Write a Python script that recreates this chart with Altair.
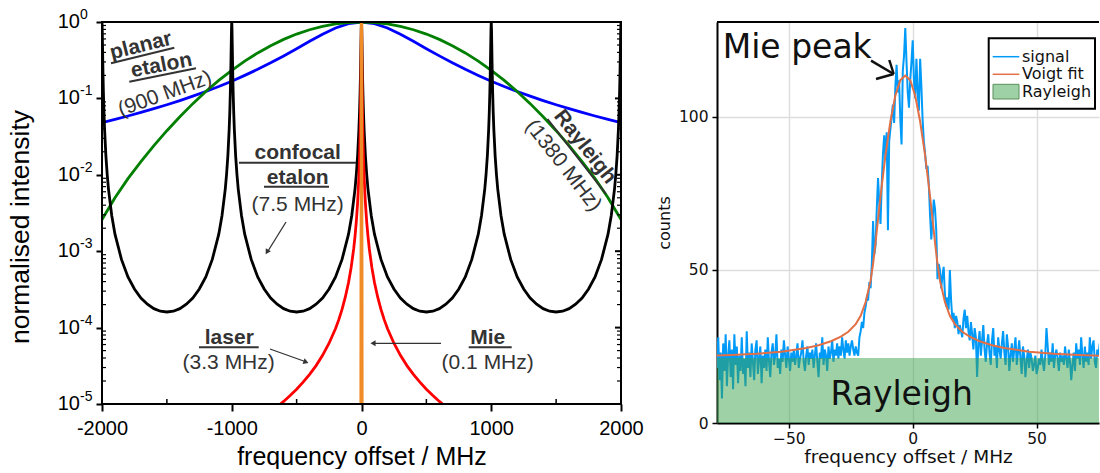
import altair as alt
import pandas as pd

# ---------------- left panel: line shapes ----------------
shape_offset = [0, 100, 200, 300, 400, 500, 600, 700, 800, 900, 1000,
                1100, 1200, 1300, 1400, 1500, 1600, 1700, 1800, 1900, 2000]
planar_value = [1.0, 0.953, 0.835, 0.692, 0.559, 0.447, 0.360, 0.292, 0.240, 0.200, 0.168,
                0.143, 0.123, 0.107, 0.0936, 0.0826, 0.0733, 0.0655, 0.0588, 0.0531, 0.048]
rayleigh_value = [1.0, 0.985, 0.943, 0.877, 0.792, 0.695, 0.592, 0.490, 0.394, 0.308, 0.233,
                  0.172, 0.123, 0.0854, 0.0576, 0.0378, 0.0241, 0.0149, 0.0089, 0.0050, 0.0026]
confocal_peaks = [-2000, -1000, 0, 1000, 2000]
confocal_offset = [0, 2, 4, 6, 8, 11, 15, 20, 30, 40, 50, 75, 100, 150, 200, 250, 300, 350, 400, 450, 500]
confocal_value = [1.0, 0.80, 0.50, 0.31, 0.20, 0.118, 0.067, 0.039, 0.0177, 0.0101, 0.0065, 0.00293,
                  0.00167, 0.00078, 0.00046, 0.00032, 0.000244, 0.000202, 0.000177, 0.000164, 0.00016]
laser_offset = [0, 1, 2, 3, 4, 5, 6, 8, 10, 12, 15, 20, 25, 30, 40, 50, 60, 80, 100, 125, 150,
                175, 200, 250, 300, 350, 400, 450, 500, 550, 600, 650]
laser_value = [1.0, 0.796, 0.494, 0.302, 0.196, 0.135, 0.0977, 0.0574, 0.0375, 0.0264, 0.01704,
               0.00966, 0.0062, 0.00431, 0.00243, 0.00156, 0.00108, 0.000609, 0.00039, 0.00025,
               0.000173, 0.000127, 0.0000975, 0.0000624, 0.0000433, 0.0000318, 0.0000244,
               0.0000193, 0.0000156, 0.0000129, 0.0000108, 0.0000092]
mie_offset = [0, 0.05, 0.1, 0.3, 1, 2, 3]
mie_value = [1.0, 0.5, 0.2, 0.027, 0.0025, 0.0006, 0.00001]

decade_value = [1, 0.1, 0.01, 0.001, 0.0001, 0.00001]
decade_exponent = ["0", "-1", "-2", "-3", "-4", "-5"]
x_major = [-2000, -1000, 0, 1000, 2000]
x_minor = [-1500, -500, 500, 1500]
y_minor = [m * 10.0 ** k for k in range(-5, 0) for m in range(2, 10)]

signal_start = -79.0
signal_step = 0.5
signal_counts = [
    # -79 .. -60
    18, 28, 14, 23, 8, 26, 17, 29, 12, 22, 27, 15, 24, 11, 29, 19, 25, 13, 22, 17,
    28, 16, 21, 12, 30, 18, 23, 15, 26, 20, 14, 24, 27, 16, 21, 25, 13, 22, 18,
    # -59.5 .. -30
    24, 17, 28, 20, 15, 23, 26, 19, 22, 29,
    18, 21, 16, 24, 20, 27, 22, 18, 25, 21,
    17, 23, 20, 24, 19, 22, 26, 18, 21, 23,
    27, 20, 17, 22, 25, 19, 23, 21, 24, 18,
    22, 26, 20, 15, 23, 21, 28, 19, 24, 22,
    17, 25, 21, 23, 27, 20, 24, 22, 26, 21,
    # -29.5 .. -22
    25, 22, 28, 24, 21, 27, 23, 26, 22, 25, 27, 24, 22, 25, 23, 22,
    # -21.5 .. 20
    28, 30, 33, 31, 36, 38, 41, 40, 46, 44,
    52, 66, 55, 58, 70, 80, 72, 65, 78, 88,
    94, 86, 95, 63, 92, 96, 100, 104, 98, 110,
    117, 108, 112, 99, 91, 115, 120, 129, 118, 108,
    103, 112, 118, 125, 112, 106, 119, 108, 102, 119,
    110, 99, 92, 88, 83, 84, 78, 68, 60, 66,
    73, 70, 63, 47, 52, 50, 44, 48, 51, 42,
    38, 41, 37, 50, 40, 34, 36, 31, 35, 33,
    29, 32, 30, 28,
    # 20.5 .. 79
    34, 37, 31, 35, 30, 27, 33, 29, 24, 31, 28, 15, 26, 30, 22, 27, 32, 24, 20, 26,
    29, 23, 19, 27, 31, 22, 25, 18, 28, 24, 21, 26, 30, 23, 19, 29, 25, 17, 22, 26,
    20, 24, 28, 19, 23, 27, 21, 16, 25, 22, 15, 20, 24, 18, 23, 21, 17, 19, 22, 16,
    18, 21, 19, 24, 20, 17, 22, 31, 25, 19, 23, 20, 26, 18, 22, 24, 21, 17, 23, 20,
    22, 19, 25, 21, 18, 24, 20, 14, 19, 23, 17, 26, 21, 24, 19, 28, 22, 18, 25, 20,
    23, 19, 28, 21, 25, 27, 20, 18, 24, 22, 26, 19, 23, 21, 25, 18, 22, 24,
]
fit_center = -3.0
fit_offset = [0, 2, 4, 6, 8, 10, 12, 13, 14, 16, 18, 20, 23, 26, 30, 35, 40, 50, 60, 70, 82]
fit_counts = [113.5, 112, 107, 98.5, 87.5, 74, 59, 52, 46.5, 39.5, 35, 32.3, 29.8, 28.2, 26.7,
              25.4, 24.5, 23.3, 22.6, 22.2, 21.9]
rayleigh_level = 21.2

# ---------------- tables built from the arrays ----------------
def mirrored(offsets, values, center=0.0, fx="f", fy="v"):
    rows = [(center - d, v) for d, v in zip(offsets, values)]
    rows += [(center + d, v) for d, v in zip(offsets, values)]
    return pd.DataFrame(rows, columns=[fx, fy]).sort_values(fx)

planar_df = mirrored(shape_offset, planar_value)
rayleigh_df = mirrored(shape_offset, rayleigh_value)
laser_df = mirrored(laser_offset, laser_value)
mie_df = mirrored(mie_offset, mie_value)
conf_rows = []
for p in confocal_peaks:
    for d, v in zip(confocal_offset, confocal_value):
        if p - d >= -2000:
            conf_rows.append((p - d, v))
        if p + d <= 2000:
            conf_rows.append((p + d, v))
confocal_df = pd.DataFrame(conf_rows, columns=["f", "v"]).sort_values("f")
decade_df = pd.DataFrame({"v": decade_value, "ten": ["10"] * len(decade_value), "ex": decade_exponent})
ymin_df = pd.DataFrame({"v": y_minor})
xminor_df = pd.DataFrame({"f": x_minor})

signal_df = pd.DataFrame({"f": [signal_start + signal_step * i for i in range(len(signal_counts))],
                          "c": signal_counts})
fit_df = mirrored(fit_offset, fit_counts, center=fit_center, fx="f", fy="c")
rayl_df = pd.DataFrame({"c": [rayleigh_level], "c0": [0.0]})

ONE = pd.DataFrame({"k": [0]})

LW, LH = 519, 382
RW, RH = 382, 401
SANS = "Liberation Sans"
DV = "DejaVu Sans"
ANN = "#333333"


def txt(t, x, y, size, bold=False, angle=0, color=ANN, font=SANS, align="center", baseline="middle"):
    return alt.Chart(ONE).mark_text(text=t, font=font, fontSize=size,
                                    fontWeight="bold" if bold else "normal", angle=angle,
                                    color=color, align=align, baseline=baseline).encode(
        x=alt.value(x), y=alt.value(y))


def seg(x1, y1, x2, y2, color=ANN, width=2.0):
    return alt.Chart(ONE).mark_rule(color=color, strokeWidth=width).encode(
        x=alt.value(x1), y=alt.value(y1), x2=alt.value(x2), y2=alt.value(y2))


def head(x, y, shape, angle, color=ANN, size=45):
    return alt.Chart(ONE).mark_point(shape=shape, filled=True, color=color, size=size,
                                     angle=angle, opacity=1).encode(x=alt.value(x), y=alt.value(y))


# ---------------- left panel ----------------
LX = alt.X("f:Q", scale=alt.Scale(domain=[-2000, 2000], nice=False, zero=False),
           axis=alt.Axis(values=x_major, labelExpr="'' + datum.value", labelFont=SANS,
                         labelFontSize=20, labelColor="black", labelPadding=7, labelFlush=False,
                         labelOverlap=False, tickSize=7, tickWidth=2, tickColor="black",
                         domain=False, grid=False, title="frequency offset / MHz",
                         titleFont=SANS, titleFontSize=25, titleFontWeight="normal",
                         titleColor="black", titlePadding=6))
LY = alt.Y("v:Q", scale=alt.Scale(type="log", domain=[1e-5, 1], nice=False),
           axis=alt.Axis(values=decade_value, labels=False, tickSize=6, tickWidth=2,
                         tickColor="black", domain=False, grid=False, title=None))


def curve(df, color, width=2.8):
    return alt.Chart(df).mark_line(color=color, strokeWidth=width, clip=True).encode(x=LX, y=LY)


left_layers = [
    curve(planar_df, "#0000ff"),
    curve(rayleigh_df, "#007f00"),
    curve(confocal_df, "black"),
    curve(laser_df, "#ff0000"),
    curve(mie_df, "#f08c28", 3.4),
    alt.Chart(ONE).mark_rect(fillOpacity=0, stroke="black", strokeWidth=2).encode(
        x=alt.value(0), x2=alt.value(LW), y=alt.value(0), y2=alt.value(LH)),
    alt.Chart(ymin_df).mark_rule(color="black", strokeWidth=1.2).encode(
        y=LY, x=alt.value(0), x2=alt.value(4)),
    alt.Chart(ymin_df).mark_rule(color="black", strokeWidth=1.2).encode(
        y=LY, x=alt.value(LW), x2=alt.value(LW - 4)),
    alt.Chart(decade_df).mark_rule(color="black", strokeWidth=2).encode(
        y=LY, x=alt.value(LW), x2=alt.value(LW - 6)),
    alt.Chart(xminor_df).mark_rule(color="black", strokeWidth=1.5).encode(
        x=LX, y=alt.value(LH), y2=alt.value(LH - 5)),
    alt.Chart(decade_df).mark_text(align="right", baseline="middle", font=SANS, fontSize=20,
                                   color="black").encode(y=LY, x=alt.value(-22), text="ten:N"),
    alt.Chart(decade_df).mark_text(align="left", baseline="middle", font=SANS, fontSize=14,
                                   color="black", dy=-7).encode(y=LY, x=alt.value(-22), text="ex:N"),
    txt("normalised intensity", -73, 205, 26.5, angle=270, color="black", baseline="alphabetic"),
    # planar etalon
    txt("planar", 39, 24, 21, bold=True, angle=346),
    seg(9, 41.3, 72.3, 25.7),
    txt("etalon", 59.5, 43.5, 21, bold=True, angle=349),
    seg(27.3, 59.7, 94, 46.3),
    txt("(900 MHz)", 63, 72, 21, angle=340),
    # confocal etalon
    txt("confocal", 195.7, 131, 21, bold=True),
    seg(137, 140.7, 254, 140.7),
    txt("etalon", 195.7, 156.3, 21, bold=True),
    seg(162, 164.7, 227, 164.7),
    txt("(7.5 MHz)", 195.7, 183, 21),
    seg(184, 200, 166, 229, width=1.3),
    head(165, 230, "triangle-down", 31, size=35),
    # Rayleigh
    txt("Rayleigh", 483, 125, 21, bold=True, angle=52),
    seg(445.5, 97, 504, 172),
    txt("(1380 MHz)", 461.3, 143.7, 21, angle=52),
    # laser
    txt("laser", 127.3, 316.3, 21, bold=True),
    seg(97, 325.3, 156.7, 325.3),
    txt("(3.3 MHz)", 126.7, 341.3, 21),
    seg(168, 327, 203, 339.5, width=1.3),
    head(204, 340, "triangle-right", 20, size=35),
    # Mie
    txt("Mie", 385.7, 315.7, 21, bold=True),
    seg(366.7, 325.3, 409.7, 325.3),
    txt("(0.1 MHz)", 385.7, 340.7, 21),
    seg(339, 321.3, 272, 321.3, width=1.3),
    head(271, 321.3, "triangle-left", 0, size=35),
]
left = alt.layer(*left_layers).properties(width=LW, height=LH)

# ---------------- right panel ----------------
RX = alt.X("f:Q", scale=alt.Scale(domain=[-79, 75.2], nice=False, zero=False),
           axis=alt.Axis(values=[-50, 0, 50], grid=True, gridColor="#dddddd", gridWidth=1.4,
                         domainColor="black", domainWidth=2, tickColor="black", tickSize=5,
                         tickWidth=1.5, labelFont=DV, labelFontSize=15.5, labelColor="#111111",
                         labelPadding=3, labelFlush=False, title="frequency offset / MHz",
                         titleFont=DV, titleFontSize=18.5, titleFontWeight="normal",
                         titleColor="#111111", titlePadding=1))
RY = alt.Y("c:Q", scale=alt.Scale(domain=[0, 131], nice=False, zero=True),
           axis=alt.Axis(values=[0, 50, 100], grid=True, gridColor="#dddddd", gridWidth=1.4,
                         domainColor="black", domainWidth=2, tickColor="black", tickSize=5,
                         tickWidth=1.5, labelFont=DV, labelFontSize=15.5, labelColor="#111111",
                         labelPadding=4, title="counts", titleFont=DV, titleFontSize=16,
                         titleFontWeight="normal", titleColor="#111111", titlePadding=6))

right_layers = [
    alt.Chart(signal_df).mark_line(color="#009af9", strokeWidth=2, clip=True).encode(x=RX, y=RY),
    alt.Chart(rayl_df).mark_rect(color="#3da44d", opacity=0.5).encode(
        x=alt.value(0), x2=alt.value(RW), y=RY, y2=alt.Y2("c0")),
    alt.Chart(fit_df).mark_line(color="#e26f46", strokeWidth=2, clip=True).encode(x=RX, y=RY),
    seg(0, 0, RW, 0, color="black", width=2),
    txt("Mie peak", 5.7, 36, 33, color="#111111", font=DV, align="left", baseline="alphabetic"),
    seg(154, 38.7, 176.7, 52, color="#111111", width=2.5),
    seg(176.7, 52, 172.3, 38, color="#111111", width=2.5),
    seg(176.7, 52, 159, 57, color="#111111", width=2.5),
    txt("Rayleigh", 184.7, 373, 33, color="#111111", font=DV),
    # legend
    alt.Chart(ONE).mark_rect(fill="white", stroke="black", strokeWidth=2).encode(
        x=alt.value(271.7), x2=alt.value(378), y=alt.value(16.3), y2=alt.value(86.7)),
    seg(275.7, 34.7, 302.3, 34.7, color="#009af9", width=1.5),
    seg(275.7, 52.3, 302.3, 52.3, color="#e26f46", width=1.5),
    alt.Chart(ONE).mark_rect(fill="#3da44d", fillOpacity=0.5, stroke="#5a8f5a", strokeWidth=1).encode(
        x=alt.value(276), x2=alt.value(302), y=alt.value(62.3), y2=alt.value(77)),
    txt("signal", 305, 34.7, 16, color="#111111", font=DV, align="left"),
    txt("Voigt fit", 305, 52.3, 16, color="#111111", font=DV, align="left"),
    txt("Rayleigh", 305, 69.7, 16, color="#111111", font=DV, align="left"),
]
right = alt.layer(*right_layers).properties(width=RW, height=RH)

chart = alt.hconcat(left, right, spacing=96, bounds="flush").properties(
    padding={"left": 8, "top": 8, "right": 0, "bottom": 0}
).configure_view(stroke=None)

chart.save("out.html", embed_options={"renderer": "svg", "actions": False})
